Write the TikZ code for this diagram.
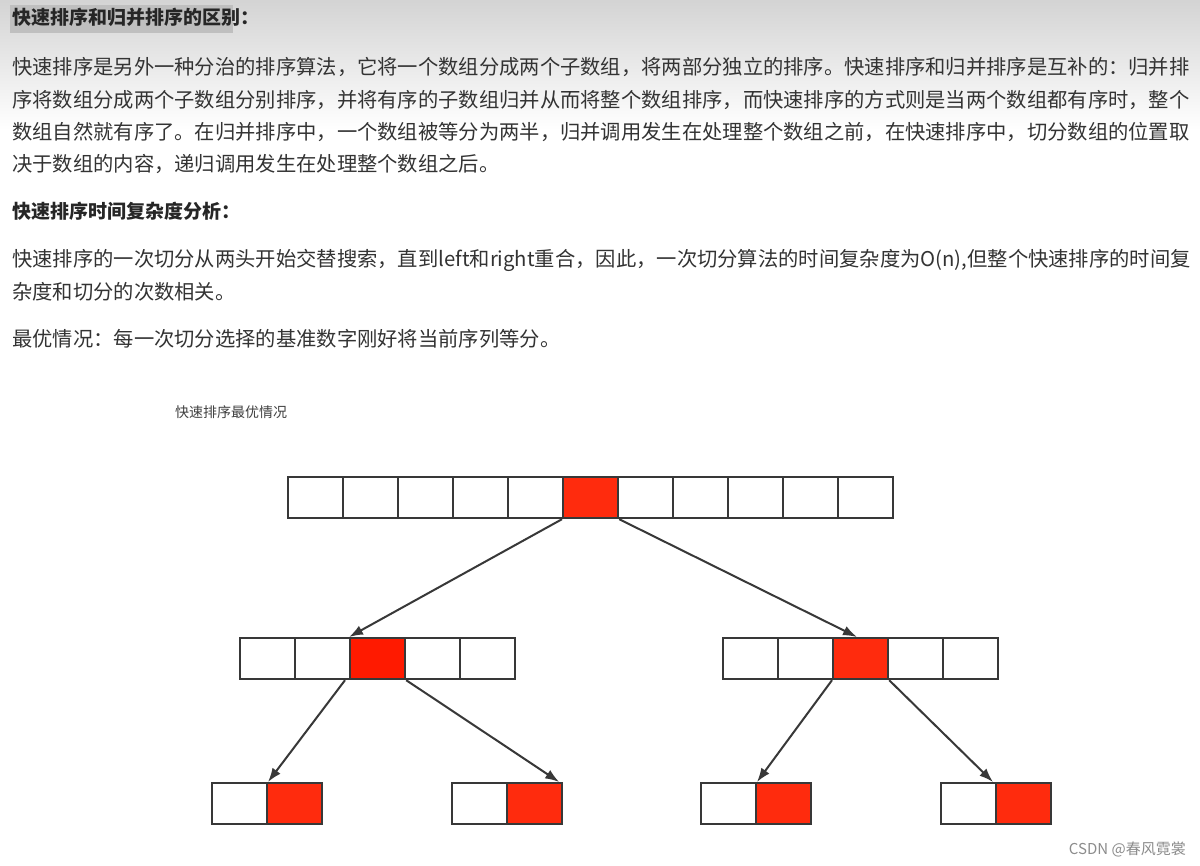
\documentclass[tikz,border=0pt]{standalone}
\usepackage{fontspec}
\setmainfont{Noto Sans CJK SC}
\newfontfamily\cjkb{Noto Sans CJK SC Bold}
\begin{document}
\begin{tikzpicture}[x=1pt,y=-1pt,
  txt/.style={anchor=base west,inner sep=0,font=\fontsize{20.3}{24}\selectfont,text=black!80},
  hd/.style={anchor=base west,inner sep=0,font=\fontsize{19}{24}\selectfont\bfseries,text=black!85},
  cell/.style={draw=black!78,line width=2.2pt,fill=white,minimum width=55pt,minimum height=41pt,inner sep=0,anchor=north west},
  redc/.style={cell,fill=red!75!orange!95!white},
  redp/.style={cell,fill={rgb,255:red,255;green,26;blue,0}},
  arr/.style={draw=black!78,line width=2pt,-{Latex[length=14pt,width=10pt]}}]
\usetikzlibrary{arrows.meta}
\useasboundingbox (0,0) rectangle (1200,866);
\shade[top color=black!17,bottom color=white] (0,0) rectangle (1200,130);
\fill[white] (0,130) rectangle (1200,866);
\fill[black!25] (10,5) rectangle (233,33);
\node[hd] (h1) at (12,25) {快速排序和归并排序的区别：};
\node[txt] (p1) at (12,75) {快速排序是另外一种分治的排序算法，它将一个数组分成两个子数组，将两部分独立的排序。快速排序和归并排序是互补的：归并排};
\node[txt] (p2) at (12,108) {序将数组分成两个子数组分别排序，并将有序的子数组归并从而将整个数组排序，而快速排序的方式则是当两个数组都有序时，整个};
\node[txt] (p3) at (12,140) {数组自然就有序了。在归并排序中，一个数组被等分为两半，归并调用发生在处理整个数组之前，在快速排序中，切分数组的位置取};
\node[txt] (p4) at (12,172) {决于数组的内容，递归调用发生在处理整个数组之后。};
\node[hd] (h2) at (12,219) {快速排序时间复杂度分析：};
\node[txt] (p5) at (12,267) {快速排序的一次切分从两头开始交替搜索，直到left和right重合，因此，一次切分算法的时间复杂度为O(n),但整个快速排序的时间复};
\node[txt] (p6) at (12,300) {杂度和切分的次数相关。};
\node[txt] (p7) at (12,347) {最优情况：每一次切分选择的基准数字刚好将当前序列等分。};
\node[anchor=base west,inner sep=0,font=\fontsize{14}{16}\selectfont,text=black!75] (cap) at (175,418) {快速排序最优情况};
\node[anchor=base east,inner sep=0,font=\fontsize{15}{16}\selectfont,text=black!45] (wm) at (1186,854) {CSDN @春风霓裳};
% top row
\foreach \i in {0,...,10}{\node[cell] (t\i) at (287+55*\i,476) {};}
\node[redc] (t5) at (287+55*5,476) {};
% middle rows
\foreach \i in {0,...,4}{\node[cell] (l\i) at (239+55*\i,637) {};\node[cell] (r\i) at (722+55*\i,637) {};}
\node[redp] (l2) at (239+110,637) {};
\node[redc] (r2) at (722+110,637) {};
% bottom
\foreach \n/\x in {a/211,b/451,c/700,d/940}{\node[cell] (\n0) at (\x,782) {};\node[redc] (\n1) at (\x+55,782) {};}
\draw[arr] (t5.south west) -- (l2.north west);
\draw[arr] (t5.south east) -- ([xshift=25pt]r2.north west);
\draw[arr] ([xshift=-4pt]l2.south west) -- ([xshift=2pt]a1.north west);
\draw[arr] (l2.south east) -- ([xshift=-4pt]b1.north east);
\draw[arr] (r2.south west) -- ([xshift=2pt]c1.north west);
\draw[arr] (r2.south east) -- ([xshift=-2pt]d1.north west);
\end{tikzpicture}
\end{document}
